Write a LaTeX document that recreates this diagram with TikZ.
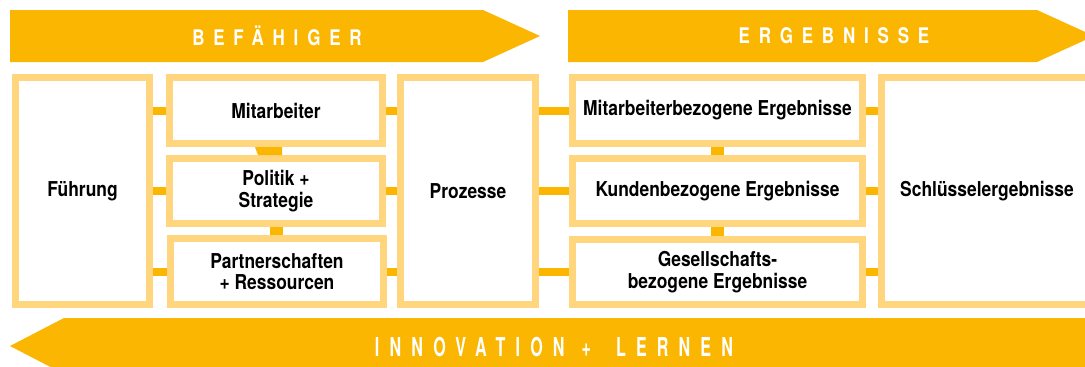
\documentclass[tikz,border=0pt]{standalone}
\usepackage{fontspec}
\setmainfont{TeX Gyre Heros}
\newfontfamily\boxfont{TeX Gyre Heros}[FakeStretch=0.85]
\newfontfamily\bandfont{TeX Gyre Heros}[FakeStretch=0.79,LetterSpace=41]
\newfontfamily\bandfontb{TeX Gyre Heros}[FakeStretch=0.62,LetterSpace=39]
\usetikzlibrary{calc}
\definecolor{band}{RGB}{250,182,0}
\definecolor{frame}{RGB}{255,213,125}
\tikzset{
  box/.style={draw=frame, line width=7pt, fill=white, inner sep=0pt, align=center,
    text=black, font={\boxfont\bfseries\fontsize{20.5}{21.5}\selectfont}},
  conn/.style={draw=band, line width=8pt},
  vconn/.style={draw=band, line width=13pt},
  bandtext/.style={text=white, inner sep=0pt, font={\bandfont\bfseries\fontsize{21.5}{24}\selectfont}},
  bandtextb/.style={text=white, inner sep=0pt, font={\bandfontb\bfseries\fontsize{26}{28}\selectfont}}
}
\begin{document}
\begin{tikzpicture}[x=1pt,y=-1pt]
\clip (0,0) rectangle (1085,367);
\fill[white] (0,0) rectangle (1085,367);
% top bands
\fill[band] (10,10) -- (483,10) -- (540,36) -- (483,62) -- (10,62) -- cycle;
\node[bandtext] (bef) at (277,36) {BEFÄHIGER};
\fill[band] (568,10) -- (1037,10) -- (1094,36) -- (1037,62) -- (568,62) -- cycle;
\node[bandtext] (erg) at (834,36) {ERGEBNISSE};
% bottom band
\fill[band] (1095,318) -- (64,318) -- (10,346) -- (64,374) -- (1095,374) -- cycle;
\node[bandtextb] (inn) at (554,347) {\mbox{INNOVATION}\hspace{17pt}\mbox{+}\hspace{25pt}\mbox{LERNEN}};
% boxes
\node[box, minimum width=134pt, minimum height=227pt] (fu) at (82.5,191) {Führung};
\node[box, minimum width=213pt, minimum height=66pt] (mit) at (276,110.5) {Mitarbeiter};
\node[box, minimum width=213pt, minimum height=65pt] (pol) at (276,191) {Politik +\\Strategie};
\node[box, minimum width=213pt, minimum height=66pt] (par) at (277,271.5) {Partnerschaften\\+ Ressourcen};
\node[box, minimum width=135pt, minimum height=227pt] (pro) at (468,191) {Prozesse};
\node[box, minimum width=290pt, minimum height=66pt] (mb) at (717.5,110.5) {Mitarbeiterbezogene Ergebnisse};
\node[box, minimum width=290pt, minimum height=65pt] (kb) at (717.5,191) {Kundenbezogene Ergebnisse};
\node[box, minimum width=290pt, minimum height=65pt] (gb) at (717.5,272) {Gesellschafts-\\bezogene Ergebnisse};
\node[box, minimum width=211pt, minimum height=227pt] (sk) at (987,191) {Schlüsselergebnisse};
% connectors
\draw[conn] (fu.east |- mit.west) -- (mit.west);
\draw[conn] (fu.east |- pol.west) -- (pol.west);
\draw[conn] (fu.east |- par.west) -- (par.west);
\draw[conn] (mit.east) -- (pro.west |- mit.east);
\draw[conn] (pol.east) -- (pro.west |- pol.east);
\draw[conn] (par.east) -- (pro.west |- par.east);
\draw[conn] (pro.east |- mb.west) -- (mb.west);
\draw[conn] (pro.east |- kb.west) -- (kb.west);
\draw[conn] (pro.east |- gb.west) -- (gb.west);
\draw[conn] (mb.east) -- (sk.west |- mb.east);
\draw[conn] (kb.east) -- (sk.west |- kb.east);
\draw[conn] (gb.east) -- (sk.west |- gb.east);
\fill[band] ($(mit.south)+(-21,0)$) -- ($(mit.south)+(6,0)$) -- ($(pol.north)+(6,0)$) -- ($(pol.north)+(-18,0)$) -- cycle;
\draw[vconn] (pol.south) -- (pol.south |- par.north);
\draw[vconn] (mb.south) -- (kb.north);
\draw[vconn] (kb.south) -- (gb.north);
\end{tikzpicture}
\end{document}
